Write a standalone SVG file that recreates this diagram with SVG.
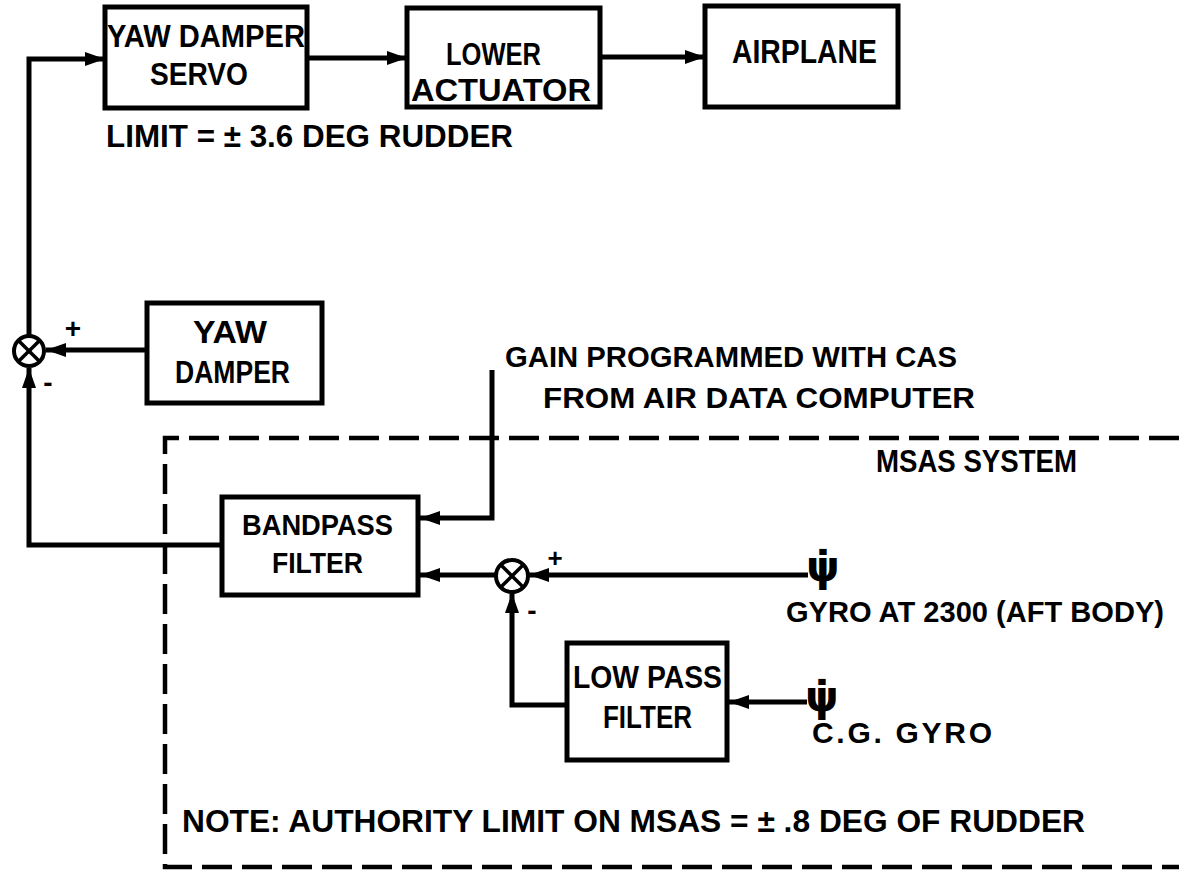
<svg xmlns="http://www.w3.org/2000/svg" width="1179" height="870" viewBox="0 0 1179 870">
<style>
.box{fill:#fff;stroke:#000;stroke-width:5}
.t{font-family:"Liberation Sans",Arial,sans-serif;font-weight:bold;fill:#000}
.psi{font-family:"DejaVu Sans",sans-serif;font-weight:bold;fill:#000}
.ln{fill:none;stroke:#000;stroke-width:5}
.dash{fill:none;stroke:#000;stroke-width:4.5;stroke-dasharray:30 10}
.sj{fill:#fff;stroke:#000;stroke-width:4}
.sx{stroke:#000;stroke-width:3.5}
</style>
<defs>
<marker id="ah" viewBox="0 0 20 14" refX="20" refY="7" markerWidth="20" markerHeight="14" markerUnits="userSpaceOnUse" orient="auto">
<path d="M0,0 L20,7 L0,14 z" fill="#000"/>
</marker>
</defs>
<rect width="1179" height="870" fill="#fff"/>

<g id="msas-boundary">
<path class="dash" d="M1179,438 H165 V867 H1179"/>
<text class="t" x="876" y="472" font-size="31" textLength="201" lengthAdjust="spacingAndGlyphs">MSAS SYSTEM</text>
</g>

<g id="connectors">
<path class="ln" d="M29,335 V59 H105" marker-end="url(#ah)"/>
<path class="ln" d="M307,58 H407" marker-end="url(#ah)"/>
<path class="ln" d="M600,57 H705" marker-end="url(#ah)"/>
<path class="ln" d="M147,350 H46" marker-end="url(#ah)"/>
<path class="ln" d="M222,545 H29 V368" marker-end="url(#ah)"/>
<path class="ln" d="M492,370 V518 H420" marker-end="url(#ah)"/>
<path class="ln" d="M496,575 H420" marker-end="url(#ah)"/>
<path class="ln" d="M808,575 H529" marker-end="url(#ah)"/>
<path class="ln" d="M567,705 H512 V593" marker-end="url(#ah)"/>
<path class="ln" d="M807,702 H729" marker-end="url(#ah)"/>
</g>

<g id="yaw-damper-servo">
<rect class="box" x="105" y="7" width="202" height="101"/>
<text class="t" x="107" y="47" font-size="31" textLength="198" lengthAdjust="spacingAndGlyphs">YAW DAMPER</text>
<text class="t" x="150" y="85" font-size="31" textLength="98" lengthAdjust="spacingAndGlyphs">SERVO</text>
</g>
<text class="t" x="106" y="147" font-size="32" textLength="407" lengthAdjust="spacingAndGlyphs">LIMIT = ± 3.6 DEG RUDDER</text>

<g id="lower-actuator">
<rect class="box" x="407" y="8" width="193" height="99"/>
<text class="t" x="446" y="65" font-size="32" textLength="95" lengthAdjust="spacingAndGlyphs">LOWER</text>
<text class="t" x="411" y="101" font-size="32" textLength="180" lengthAdjust="spacingAndGlyphs">ACTUATOR</text>
</g>

<g id="airplane">
<rect class="box" x="705" y="6" width="193" height="101"/>
<text class="t" x="732" y="63" font-size="33" textLength="145" lengthAdjust="spacingAndGlyphs">AIRPLANE</text>
</g>

<g id="sum1">
<circle class="sj" cx="29" cy="351" r="15"/>
<line class="sx" x1="18.4" y1="340.4" x2="39.6" y2="361.6"/>
<line class="sx" x1="39.6" y1="340.4" x2="18.4" y2="361.6"/>
<text class="t" x="73" y="338" font-size="28" text-anchor="middle">+</text>
<text class="t" x="48" y="392" font-size="28" text-anchor="middle">-</text>
</g>

<g id="yaw-damper">
<rect class="box" x="147" y="303" width="175" height="100"/>
<text class="t" x="193" y="343" font-size="32" textLength="74" lengthAdjust="spacingAndGlyphs">YAW</text>
<text class="t" x="175" y="383" font-size="32" textLength="115" lengthAdjust="spacingAndGlyphs">DAMPER</text>
</g>

<g id="gain-note">
<text class="t" x="505" y="367" font-size="29" textLength="452" lengthAdjust="spacingAndGlyphs">GAIN PROGRAMMED WITH CAS</text>
<text class="t" x="543" y="408" font-size="29" textLength="432" lengthAdjust="spacingAndGlyphs">FROM AIR DATA COMPUTER</text>
</g>

<g id="bandpass-filter">
<rect class="box" x="222" y="497" width="196" height="98"/>
<text class="t" x="242" y="535" font-size="29" textLength="151" lengthAdjust="spacingAndGlyphs">BANDPASS</text>
<text class="t" x="272" y="573" font-size="29" textLength="91" lengthAdjust="spacingAndGlyphs">FILTER</text>
</g>

<g id="sum2">
<circle class="sj" cx="512" cy="576" r="16"/>
<line class="sx" x1="500.7" y1="564.7" x2="523.3" y2="587.3"/>
<line class="sx" x1="523.3" y1="564.7" x2="500.7" y2="587.3"/>
<text class="t" x="555" y="567" font-size="26" text-anchor="middle">+</text>
<text class="t" x="532" y="620" font-size="28" text-anchor="middle">-</text>
</g>

<g id="gyro-aft">
<text class="psi" x="823" y="581" font-size="42" text-anchor="middle">ψ̇</text>
<text class="t" x="786" y="622" font-size="30" textLength="378" lengthAdjust="spacingAndGlyphs">GYRO AT 2300 (AFT BODY)</text>
</g>

<g id="low-pass-filter">
<rect class="box" x="567" y="643" width="160" height="117"/>
<text class="t" x="573" y="688" font-size="31" textLength="149" lengthAdjust="spacingAndGlyphs">LOW PASS</text>
<text class="t" x="603" y="728" font-size="31" textLength="89" lengthAdjust="spacingAndGlyphs">FILTER</text>
</g>

<g id="cg-gyro">
<text class="psi" x="822" y="711" font-size="42" text-anchor="middle">ψ̇</text>
<text class="t" x="812" y="743" font-size="30" textLength="180" lengthAdjust="spacing">C.G. GYRO</text>
</g>

<text class="t" x="182" y="832" font-size="32" textLength="903" lengthAdjust="spacingAndGlyphs">NOTE: AUTHORITY LIMIT ON MSAS = ± .8 DEG OF RUDDER</text>
</svg>
